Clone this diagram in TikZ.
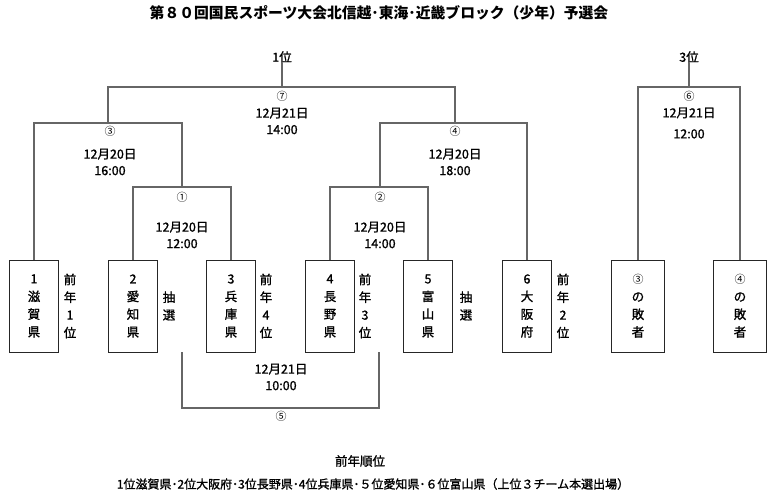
\documentclass[tikz,border=0pt]{standalone}
\usepackage{fontspec}
\setmainfont{Noto Sans CJK JP}
\newfontfamily\jpm{Noto Sans CJK JP}[FakeBold=1.2]
\newcommand{\circnum}[1]{{\rmfamily\fontsize{11}{12}\selectfont #1}}
\begin{document}
\begin{tikzpicture}[x=1pt,y=-1pt,
  team/.style={draw=black!85,line width=1pt,minimum width=49pt,minimum height=92pt,inner sep=0pt,align=center,font=\jpm\fontsize{12.5}{17.7}\selectfont},
  side/.style={inner sep=0pt,align=center,font=\jpm\fontsize{12.5}{17.7}\selectfont},
  lbl/.style={inner sep=0pt,align=center,font=\jpm\fontsize{12.5}{16.5}\selectfont},
  num/.style={inner sep=0pt,font=\fontsize{11}{12}\selectfont},
  conn/.style={draw=black!60,line width=1.3pt}]
\useasboundingbox[fill=white] (0,0) rectangle (779,495);
\node[inner sep=0pt,font=\fontsize{14.8}{16}\selectfont\bfseries] (title) at (379,13) {第８０回国民スポーツ大会北信越･東海･近畿ブロック（少年）予選会};
% teams
\node[team] (b1) at (34,306) {1\\滋\\賀\\県};
\node[team] (b2) at (133,306) {2\\愛\\知\\県};
\node[team] (b3) at (231,306) {3\\兵\\庫\\県};
\node[team] (b4) at (330,306) {4\\長\\野\\県};
\node[team] (b5) at (428,306) {5\\富\\山\\県};
\node[team] (b6) at (527,306) {6\\大\\阪\\府};
\node[team,minimum width=53pt] (b7) at (638,306) {\circnum{③}\\の\\敗\\者};
\node[team,minimum width=53pt] (b8) at (740,306) {\circnum{④}\\の\\敗\\者};
% side labels
\node[side] (s1) at (70,306) {前\\年\\1\\位};
\node[side] (s2) at (169,306) {抽\\選};
\node[side] (s3) at (266,306) {前\\年\\4\\位};
\node[side] (s4) at (365,306) {前\\年\\3\\位};
\node[side] (s5) at (466,306) {抽\\選};
\node[side] (s6) at (563,306) {前\\年\\2\\位};
% junctions
\coordinate (m1) at (182,187);
\coordinate (m2) at (380,187);
\coordinate (m3) at (108,123);
\coordinate (m4) at (455,123);
\coordinate (m7) at (282,87);
\coordinate (m6) at (689,87);
\coordinate (l1) at (182,352);
\coordinate (l2) at (379,352);
\coordinate (m5) at (281,408);
\node[lbl] (r1) at (282,57) {1位};
\node[lbl] (r3) at (689,57) {3位};
% connectors
\draw[conn] (b2.north) |- (m1) -| (b3.north);
\draw[conn] (b4.north) |- (m2) -| (b5.north);
\draw[conn] (b1.north) |- (m3) -| (m1);
\draw[conn] (m2) |- (m4) -| (b6.north);
\draw[conn] (m3) |- (m7) -| (m4);
\draw[conn] (m7) -- (r1.south);
\draw[conn] (b7.north) |- (m6) -| (b8.north);
\draw[conn] (m6) -- (r3.south);
\draw[conn] (l1) |- (m5) -| (l2);
% match labels
\node[num] (n7) at (282,96) {⑦};
\node[lbl] (t7) at (282,121) {12月21日\\14:00};
\node[num] (n3) at (110,131) {③};
\node[lbl] (t3) at (110,162) {12月20日\\16:00};
\node[num] (n4) at (455,131) {④};
\node[lbl] (t4) at (455,162) {12月20日\\18:00};
\node[num] (n1) at (182,197) {①};
\node[lbl] (t1) at (182,235) {12月20日\\12:00};
\node[num] (n2) at (380,197) {②};
\node[lbl] (t2) at (380,235) {12月20日\\14:00};
\node[num] (n6) at (689,96) {⑥};
\node[lbl,font=\jpm\fontsize{12.5}{21}\selectfont] (t6) at (689,123) {12月21日\\12:00};
\node[lbl] (t5) at (281,377) {12月21日\\10:00};
\node[num] (n5) at (281,416) {⑤};
% bottom
\node[lbl] (p1) at (360,461) {前年順位};
\node[lbl,font=\jpm\fontsize{12}{14}\selectfont] (p2) at (373,484) {1位滋賀県･2位大阪府･3位長野県･4位兵庫県･５位愛知県･６位富山県（上位３チーム本選出場）};
\end{tikzpicture}
\end{document}
